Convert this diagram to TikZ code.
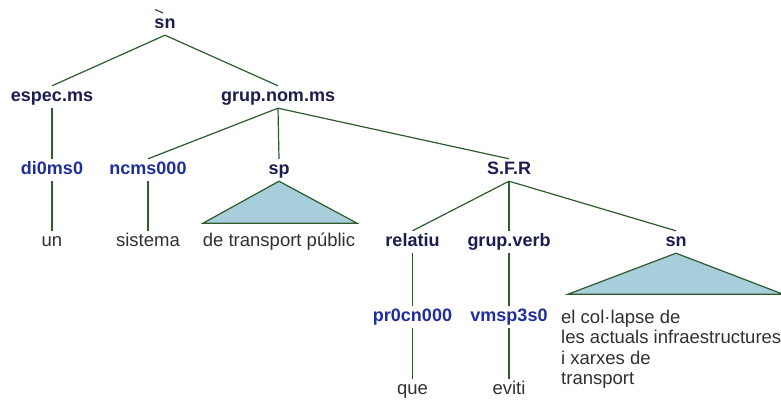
\documentclass[tikz,border=0pt]{standalone}
\usepackage{fontspec}
\setmainfont{Liberation Sans}
\definecolor{edgec}{HTML}{2E5A2E}
\definecolor{catc}{HTML}{1C1C50}
\definecolor{tagc}{HTML}{1F2E9C}
\definecolor{wordc}{HTML}{303030}
\definecolor{trifill}{HTML}{A8CEDC}
\begin{document}
\begin{tikzpicture}[x=1pt,y=-1pt,
  basenode/.style={inner xsep=1pt, inner ysep=3pt, text height=12.5pt, text depth=3.5pt},
  catnode/.style={basenode, text=catc, font=\fontsize{18}{20}\selectfont\bfseries},
  tagnode/.style={basenode, text=tagc, font=\fontsize{18}{20}\selectfont\bfseries},
  wordnode/.style={basenode, text=wordc, font=\fontsize{18.5}{20}\selectfont},
  edge/.style={draw=edgec, line width=1.2pt},
  tri/.style={edge, fill=trifill, line join=miter}]
\clip (0,0) rectangle (781,401);
% nodes
\node[catnode] (sn) at (165,24) {sn};
\node[catnode] (espec) at (52,97) {espec.ms};
\node[catnode] (gnom) at (278,97) {grup.nom.ms};
\node[tagnode] (di) at (52,170) {di0ms0};
\node[tagnode] (ncms) at (148,170) {ncms000};
\node[catnode] (sp) at (279,170) {sp};
\node[catnode] (sfr) at (509,170) {S.F.R};
\node[wordnode] (un) at (52,242) {un};
\node[wordnode] (sistema) at (148,242) {sistema};
\node[wordnode] (detp) at (279,242) {de transport públic};
\node[catnode] (relatiu) at (412.5,242) {relatiu};
\node[catnode] (gverb) at (509,242) {grup.verb};
\node[catnode] (sn2) at (676,242) {sn};
\node[tagnode] (pr) at (412.5,317) {pr0cn000};
\node[tagnode] (vm) at (509,317) {vmsp3s0};
\node[wordnode] (que) at (412.5,390) {que};
\node[wordnode] (eviti) at (509,390) {eviti};
\node[anchor=north west, inner sep=0pt, align=left, text=wordc,
  font=\fontsize{18.5}{20.3}\selectfont] (elcol) at (561,310)
  {el col·lapse de\\les actuals infraestructures\\i xarxes de\\transport};
% small tick above the root
\coordinate (tickA) at (155,9.5);
\coordinate (tickB) at (163,13);
\draw[edge] (tickA) -- (tickB);
% connectors
\draw[edge] (sn.south) -- (espec.north);
\draw[edge] (sn.south) -- (gnom.north);
\draw[edge] (espec.south) -- (di.north);
\draw[edge] (di.south) -- (un.north);
\draw[edge] (gnom.south) -- (ncms.north);
\draw[edge] (gnom.south) -- (sp.north);
\draw[edge] (gnom.south) -- (sfr.north);
\draw[edge] (ncms.south) -- (sistema.north);
\draw[tri] (sp.south) -- ++(-76,42) -- ++(154,0) -- cycle;
\draw[edge] (sfr.south) -- (relatiu.north);
\draw[edge] (sfr.south) -- (gverb.north);
\draw[edge] (sfr.south) -- (sn2.north);
\draw[edge] (relatiu.south) -- (pr.north);
\draw[edge] (pr.south) -- (que.north);
\draw[edge] (gverb.south) -- (vm.north);
\draw[edge] (vm.south) -- (eviti.north);
\draw[tri] (sn2.south) -- ++(-108,41) -- ++(215,0) -- cycle;
\end{tikzpicture}
\end{document}
